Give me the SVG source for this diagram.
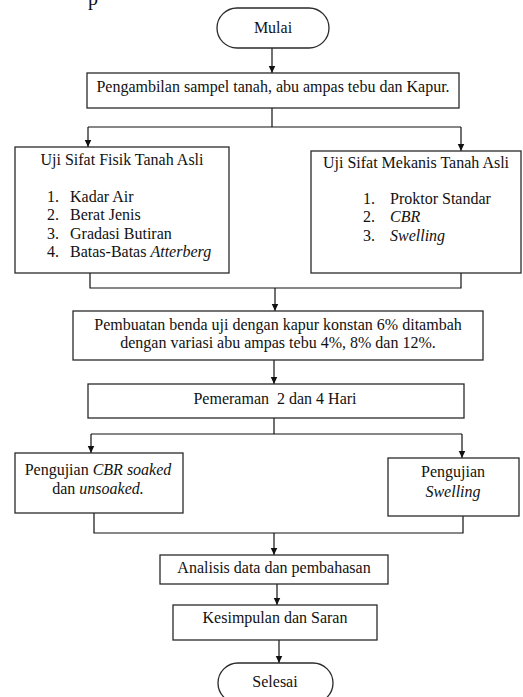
<svg xmlns="http://www.w3.org/2000/svg" width="523" height="697" viewBox="0 0 523 697" font-family="'Liberation Serif', 'Times New Roman', serif">
<style>
text{font-size:16px;fill:#111;white-space:pre}
.c{text-anchor:middle}
.i{font-style:italic}
.box{fill:#fff;stroke:#2a2a2a;stroke-width:1.3}
.ln{fill:none;stroke:#111;stroke-width:1.2}
</style>
<defs>
<marker id="ah" markerUnits="userSpaceOnUse" markerWidth="8" markerHeight="8" refX="7.5" refY="3.5" orient="auto">
<path d="M0,0 L7.5,3.5 L0,7 z" fill="#111"/>
</marker>
</defs>
<text x="88" y="5" font-size="20" style="font-size:20px">p</text>
<g id="connectors">
<path class="ln" d="M272,48 V73" marker-end="url(#ah)"/>
<path class="ln" d="M272,108 V127 M88,127 H461"/>
<path class="ln" d="M88,127 V147" marker-end="url(#ah)"/>
<path class="ln" d="M461,127 V151" marker-end="url(#ah)"/>
<path class="ln" d="M90,273 V288 H461 V273"/>
<path class="ln" d="M275,288 V311" marker-end="url(#ah)"/>
<path class="ln" d="M274,360 V384" marker-end="url(#ah)"/>
<path class="ln" d="M274,418 V434 M91,434 H462"/>
<path class="ln" d="M91,434 V453" marker-end="url(#ah)"/>
<path class="ln" d="M462,434 V458" marker-end="url(#ah)"/>
<path class="ln" d="M94,513 V533 H463 V516"/>
<path class="ln" d="M274,533 V555" marker-end="url(#ah)"/>
<path class="ln" d="M277,584 V605" marker-end="url(#ah)"/>
<path class="ln" d="M279,640 V663" marker-end="url(#ah)"/>
</g>
<g id="mulai">
<rect class="box" x="217" y="8" width="112" height="40" rx="20"/>
<text class="c" x="273" y="33">Mulai</text>
</g>
<g id="pengambilan">
<rect class="box" x="87" y="73" width="372" height="35"/>
<text class="c" x="273" y="92">Pengambilan sampel tanah, abu ampas tebu dan Kapur.</text>
</g>
<g id="fisik">
<rect class="box" x="15" y="147" width="214" height="126"/>
<text class="c" x="122" y="165">Uji Sifat Fisik Tanah Asli</text>
<text x="47" y="202">1.</text><text x="70" y="202">Kadar Air</text>
<text x="47" y="220">2.</text><text x="70" y="220">Berat Jenis</text>
<text x="47" y="239">3.</text><text x="70" y="239">Gradasi Butiran</text>
<text x="47" y="257">4.</text><text x="70" y="257">Batas-Batas <tspan class="i">Atterberg</tspan></text>
</g>
<g id="mekanis">
<rect class="box" x="311" y="151" width="210" height="122"/>
<text class="c" x="416" y="168">Uji Sifat Mekanis Tanah Asli</text>
<text x="363" y="204">1.</text><text x="390" y="204">Proktor Standar</text>
<text x="363" y="222">2.</text><text class="i" x="390" y="222">CBR</text>
<text x="363" y="241">3.</text><text class="i" x="390" y="241">Swelling</text>
</g>
<g id="pembuatan">
<rect class="box" x="73" y="311" width="410" height="49"/>
<text class="c" x="278" y="330">Pembuatan benda uji dengan kapur konstan 6% ditambah</text>
<text class="c" x="278" y="348">dengan variasi abu ampas tebu 4%, 8% dan 12%.</text>
</g>
<g id="pemeraman">
<rect class="box" x="88" y="384" width="376" height="34"/>
<text class="c" x="275" y="404">Pemeraman  2 dan 4 Hari</text>
</g>
<g id="cbr">
<rect class="box" x="15" y="453" width="168" height="60"/>
<text class="c" x="98" y="475">Pengujian <tspan class="i">CBR soaked</tspan></text>
<text class="c" x="98" y="494">dan <tspan class="i">unsoaked.</tspan></text>
</g>
<g id="swelling">
<rect class="box" x="388" y="458" width="131" height="58"/>
<text class="c" x="453" y="477">Pengujian</text>
<text class="c i" x="453" y="497">Swelling</text>
</g>
<g id="analisis">
<rect class="box" x="160" y="555" width="228" height="29"/>
<text class="c" x="274" y="573">Analisis data dan pembahasan</text>
</g>
<g id="kesimpulan">
<rect class="box" x="173" y="605" width="204" height="35"/>
<text class="c" x="275" y="623">Kesimpulan dan Saran</text>
</g>
<g id="selesai">
<rect class="box" x="218" y="663" width="115" height="40" rx="20"/>
<text class="c" x="275" y="687">Selesai</text>
</g>
</svg>
